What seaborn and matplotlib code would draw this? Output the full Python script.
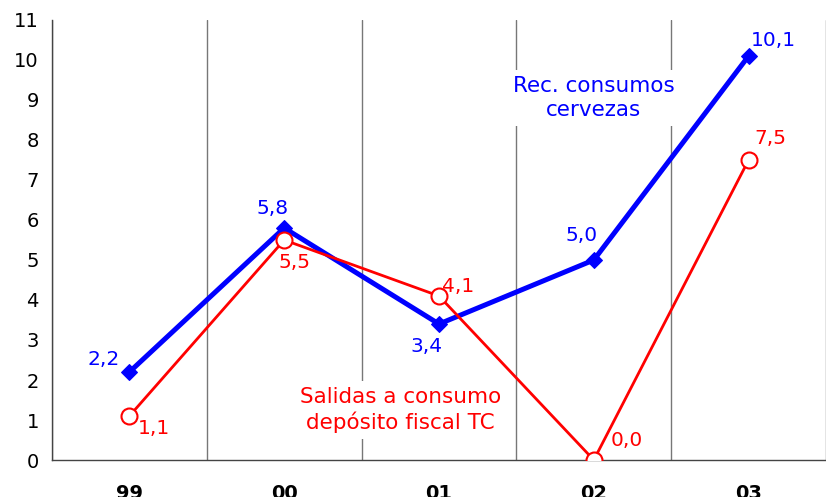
import numpy as np
import pandas as pd
import seaborn as sns
import matplotlib.pyplot as plt

years = ["99", "00", "01", "02", "03"]
cervezas = [2.2, 5.8, 3.4, 5.0, 10.1]
salidas = [1.1, 5.5, 4.1, 0.0, 7.5]

# label offsets in pixels (dx, dy) relative to each point
off_cervezas = [(-26, 12), (-12, 19), (-12, -23), (-12, 24), (25, 15)]
off_salidas = [(25, -13), (10, -23), (19, 9), (33, 19), (22, 21)]

BLUE = "#0000ff"
RED = "#ff0000"


def fmt(v):
    return f"{v:.1f}".replace(".", ",")


def main():
    df = pd.DataFrame({"year": years, "cervezas": cervezas, "salidas": salidas})

    sns.set_style("white")
    plt.rcParams["font.family"] = ["DejaVu Sans"]

    fig = plt.figure(figsize=(8.26, 4.97), dpi=100)
    ax = fig.add_axes([52 / 826, 1 - 460 / 497, 1 - 52 / 826, 440 / 497])

    sns.lineplot(data=df, x="year", y="cervezas", ax=ax, color=BLUE, lw=3.6,
                 marker="D", markersize=8.5, markeredgecolor=BLUE, zorder=4,
                 sort=False)
    sns.lineplot(data=df, x="year", y="salidas", ax=ax, color=RED, lw=2,
                 marker="o", markersize=11.5, markerfacecolor="white",
                 markeredgecolor=RED, markeredgewidth=1.5, zorder=5, sort=False)

    n = len(years)
    ax.set_xlim(-0.5, 4.437)
    ax.set_ylim(0, 11)
    ax.set_yticks(range(0, 12))
    ax.set_xticks(range(n))
    ax.set_xticklabels(years, fontsize=14, fontweight="bold", color="black")
    ax.set_xticks(np.arange(-0.5, n, 1.0), minor=True)
    ax.tick_params(axis="x", which="major", length=0, pad=17)
    ax.tick_params(axis="x", which="minor", length=4.5, width=1,
                   color="#444444", direction="out")
    ax.tick_params(axis="y", length=4.5, width=1, color="#444444",
                   direction="out", pad=5, labelsize=14, labelcolor="black")
    ax.grid(False)
    ax.xaxis.grid(True, which="minor", color="#777777", lw=1)
    ax.set_xlabel("")
    ax.set_ylabel("")
    for s in ["top", "right"]:
        ax.spines[s].set_visible(False)
    for s in ["left", "bottom"]:
        ax.spines[s].set_color("#444444")
        ax.spines[s].set_linewidth(1)

    for i, (v, (dx, dy)) in enumerate(zip(cervezas, off_cervezas)):
        ax.annotate(fmt(v), (i, v), xytext=(dx * 0.72, dy * 0.72),
                    textcoords="offset points", ha="center", va="center",
                    color=BLUE, fontsize=14.5, zorder=6)
    for i, (v, (dx, dy)) in enumerate(zip(salidas, off_salidas)):
        ax.annotate(fmt(v), (i, v), xytext=(dx * 0.72, dy * 0.72),
                    textcoords="offset points", ha="center", va="center",
                    color=RED, fontsize=14.5, zorder=6)

    box = dict(facecolor="white", edgecolor="none", pad=4)
    ax.text(3.0, 9.05, "Rec. consumos\ncervezas", color=BLUE, fontsize=15.5,
            ha="center", va="center", linespacing=1.25, bbox=box, zorder=3)
    ax.text(1.75, 1.25, "Salidas a consumo\ndepósito fiscal TC", color=RED,
            fontsize=15.5, ha="center", va="center", linespacing=1.25,
            bbox=box, zorder=3)

    fig.savefig("out.png", dpi=100)


if __name__ == "__main__":
    main()
